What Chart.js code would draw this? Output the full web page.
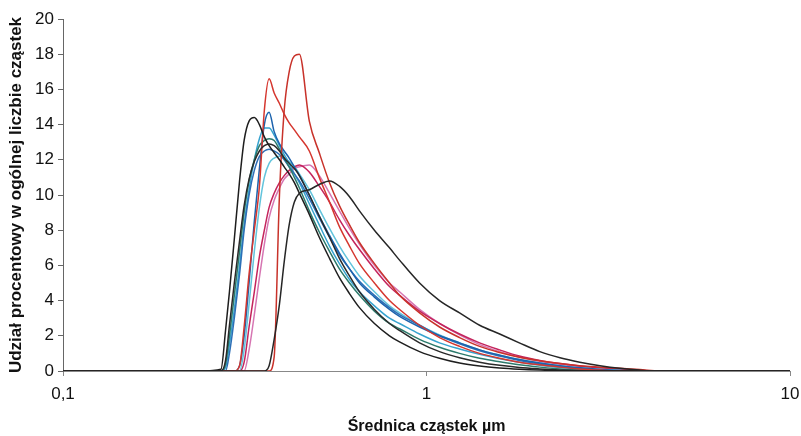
<!DOCTYPE html>
<html>
<head>
<meta charset="utf-8">
<script src="https://cdn.jsdelivr.net/npm/chart.js@4"></script>
<style>
    body { margin: 0; background: #fff; }
</style>
</head>
<body>
<canvas id="size_chart" width="801" height="436"></canvas>
<script>
// particle diameters (um) - shared bins for every sample
const diameters = [0.1, 0.24, 0.272, 0.28, 0.287, 0.296, 0.306, 0.315, 0.325, 0.336, 0.347, 0.358, 0.369, 0.381,
    0.394, 0.406, 0.419, 0.433, 0.447, 0.476, 0.507, 0.541, 0.576, 0.614, 0.654, 0.719, 0.791, 0.843, 0.957,
    1.086, 1.233, 1.4, 1.59, 1.8, 2.05, 2.33, 2.64, 3.0, 3.4, 3.86, 4.38, 10];

const xTicks = [0.1, 1, 10];
const yTicks = [0, 2, 4, 6, 8, 10, 12, 14, 16, 18, 20];

// percentage of particles, one array per sample
const black1 = [0, 0, 0.1, 2.3, 4.5, 7.5, 10.8, 13.1, 14.2, 14.4, 14.0, 13.3, 12.8, 12.4, 12.0, 11.6, 11.2, 10.7, 10.1,
    8.9, 7.6, 6.4, 5.3, 4.4, 3.6, 2.7, 2.0, 1.65, 1.1, 0.72, 0.45, 0.28, 0.17, 0.1, 0.05, 0.02, 0, 0, 0, 0, 0, 0];
const black2 = [0, 0, 0, 0.6, 2.6, 5.0, 7.4, 9.4, 10.9, 11.9, 12.5, 12.8, 12.9, 12.8, 12.5, 12.1, 11.8, 11.5, 11.1,
    10.0, 8.8, 7.6, 6.4, 5.4, 4.5, 3.5, 2.7, 2.3, 1.6, 1.1, 0.75, 0.5, 0.32, 0.2, 0.12, 0.06, 0.02, 0, 0, 0, 0, 0];
const black3 = [0, 0, 0, 0, 0, 0, 0, 0, 0, 0, 0, 0, 0.3, 1.8, 3.8, 6.2, 8.3, 9.6, 10.1,
    10.3, 10.6, 10.8, 10.5, 9.9, 9.1, 8.0, 7.0, 6.3, 5.0, 4.0, 3.3, 2.6, 2.1, 1.6, 1.1, 0.75, 0.5, 0.3, 0.15, 0.05, 0, 0];
const teal1 = [0, 0, 0, 0.4, 2.0, 4.3, 6.8, 9.0, 10.8, 12.0, 12.8, 13.1, 13.2, 13.1, 12.6, 12.1, 11.6, 11.0, 10.4,
    9.1, 7.9, 6.8, 5.8, 5.0, 4.3, 3.4, 2.7, 2.4, 1.8, 1.35, 1.0, 0.72, 0.52, 0.35, 0.22, 0.12, 0.05, 0, 0, 0, 0, 0];
const cyan1 = [0, 0, 0, 0.2, 1.5, 3.5, 6.0, 8.3, 10.3, 12.0, 13.2, 13.8, 13.8, 13.4, 12.8, 12.3, 11.8, 11.2, 10.7,
    9.5, 8.3, 7.1, 6.1, 5.2, 4.5, 3.7, 3.0, 2.7, 2.1, 1.6, 1.25, 0.95, 0.7, 0.5, 0.33, 0.2, 0.11, 0.05, 0, 0, 0, 0];
const blue2 = [0, 0, 0, 0, 1.0, 3.0, 5.5, 8.0, 10.0, 11.4, 12.2, 12.5, 12.6, 12.5, 12.3, 12.0, 11.6, 11.2, 10.8,
    9.8, 8.7, 7.6, 6.6, 5.8, 5.1, 4.3, 3.6, 3.2, 2.6, 2.0, 1.55, 1.15, 0.85, 0.6, 0.4, 0.25, 0.14, 0.06, 0, 0, 0, 0];
const blue1 = [0, 0, 0, 0, 0, 0, 0.3, 2.0, 5.0, 8.5, 11.5, 14.0, 14.7, 13.6, 12.9, 12.5, 12.1, 11.6, 11.1,
    10.0, 8.8, 7.7, 6.7, 5.8, 5.0, 4.2, 3.5, 3.1, 2.5, 2.0, 1.6, 1.2, 0.9, 0.65, 0.45, 0.3, 0.18, 0.09, 0.03, 0, 0, 0];
const cyan2 = [0, 0, 0, 0, 0, 0, 0, 1.2, 3.8, 6.8, 9.3, 11.0, 11.8, 12.1, 12.2, 12.1, 11.9, 11.6, 11.2,
    10.3, 9.2, 8.1, 7.1, 6.2, 5.4, 4.5, 3.7, 3.3, 2.6, 2.05, 1.6, 1.2, 0.9, 0.65, 0.45, 0.3, 0.18, 0.1, 0.04, 0, 0, 0];
const red1 = [0, 0, 0, 0, 0, 0, 0.3, 2.5, 5.5, 8.0, 10.5, 14.8, 16.6, 15.8, 15.2, 14.6, 14.1, 13.7, 13.3,
    12.5, 11.0, 9.6, 8.2, 7.1, 6.1, 5.0, 4.0, 3.5, 2.6, 1.9, 1.4, 1.0, 0.72, 0.5, 0.35, 0.22, 0.12, 0.05, 0, 0, 0, 0];
const red2 = [0, 0, 0, 0, 0, 0, 0, 0, 0, 0, 0, 0, 0, 0.8, 10.0, 14.8, 17.0, 17.9, 18.0,
    14.2, 12.4, 10.7, 9.4, 8.3, 7.3, 6.1, 5.0, 4.3, 3.3, 2.5, 1.9, 1.4, 1.05, 0.78, 0.58, 0.42, 0.3, 0.22, 0.15, 0.08, 0, 0];
const crimson1 = [0, 0, 0, 0, 0, 0, 0, 0.5, 2.5, 4.5, 6.5, 8.0, 9.3, 10.1, 10.7, 11.1, 11.4, 11.6, 11.7,
    11.3, 10.5, 9.6, 8.6, 7.7, 6.9, 5.8, 4.8, 4.3, 3.4, 2.7, 2.1, 1.6, 1.2, 0.85, 0.6, 0.42, 0.28, 0.18, 0.1, 0.04, 0, 0];
const pink1 = [0, 0, 0, 0, 0, 0, 0, 0, 1.2, 3.2, 5.3, 7.2, 8.7, 9.7, 10.4, 10.9, 11.2, 11.5, 11.6,
    11.7, 11.1, 10.1, 9.1, 8.1, 7.2, 6.0, 5.0, 4.5, 3.5, 2.7, 2.05, 1.5, 1.1, 0.8, 0.55, 0.38, 0.25, 0.15, 0.08, 0.02, 0, 0];

function makeSet(values, color) {
    return {
        data: diameters.map((d, i) => ({ x: d, y: values[i] })),
        borderColor: color,
        borderWidth: 1.5,
        pointRadius: 0,
        fill: false,
        cubicInterpolationMode: 'monotone'
    };
}

// chart.js paints the first dataset on top, so the black ones go first
const ctx = document.getElementById('size_chart').getContext('2d');
const sizeChart = new Chart(ctx, {
    type: 'line',
    data: {
        datasets: [
            makeSet(black3, '#262626'),
            makeSet(black1, '#1e1e1e'),
            makeSet(black2, '#2a2a2a'),
            makeSet(red2, '#c8322a'),
            makeSet(red1, '#d5362e'),
            makeSet(teal1, '#2c7a6c'),
            makeSet(blue1, '#1c63ad'),
            makeSet(blue2, '#2d6fb6'),
            makeSet(cyan1, '#36a3cf'),
            makeSet(cyan2, '#62c4dc'),
            makeSet(crimson1, '#c4245c'),
            makeSet(pink1, '#d675b2')
        ]
    },
    options: {
        responsive: false,
        animation: false,
        devicePixelRatio: 1,
        layout: {
            padding: { top: 19, right: 11, left: 0, bottom: 0 }
        },
        plugins: {
            legend: { display: false },
            tooltip: { enabled: false }
        },
        scales: {
            x: {
                type: 'logarithmic',
                min: 0.1,
                max: 10,
                afterBuildTicks: (scale) => {
                    scale.ticks = xTicks.map(v => ({ value: v }));
                },
                afterFit: (scale) => {
                    scale.height = 65;
                    // keep the plot right edge where the original has it
                    scale.paddingLeft = 0;
                    scale.paddingRight = 0;
                },
                ticks: {
                    color: '#111',
                    padding: 8,
                    font: { family: 'Liberation Sans, Arial', size: 17 },
                    callback: (v) => String(v).replace('.', ',')
                },
                grid: { drawOnChartArea: false, tickLength: 5, color: '#888' },
                border: { color: '#888', width: 1 },
                title: {
                    display: true,
                    text: 'Średnica cząstek µm',
                    color: '#111',
                    padding: { top: 0, bottom: 0 },
                    font: { family: 'Liberation Sans, Arial', size: 16, weight: 'bold' }
                }
            },
            y: {
                min: 0,
                max: 20,
                afterBuildTicks: (scale) => {
                    scale.ticks = yTicks.map(v => ({ value: v }));
                },
                afterFit: (scale) => { scale.width = 63; },
                ticks: {
                    color: '#111',
                    padding: 4,
                    font: { family: 'Liberation Sans, Arial', size: 17 }
                },
                grid: { drawOnChartArea: false, tickLength: 5, color: '#666' },
                border: { color: '#666', width: 1 },
                title: {
                    display: true,
                    text: 'Udział procentowy w ogólnej liczbie cząstek',
                    color: '#111',
                    padding: { top: 6, bottom: 0 },
                    font: { family: 'Liberation Sans, Arial', size: 17, weight: 'bold' }
                }
            }
        }
    }
});
</script>
</body>
</html>
